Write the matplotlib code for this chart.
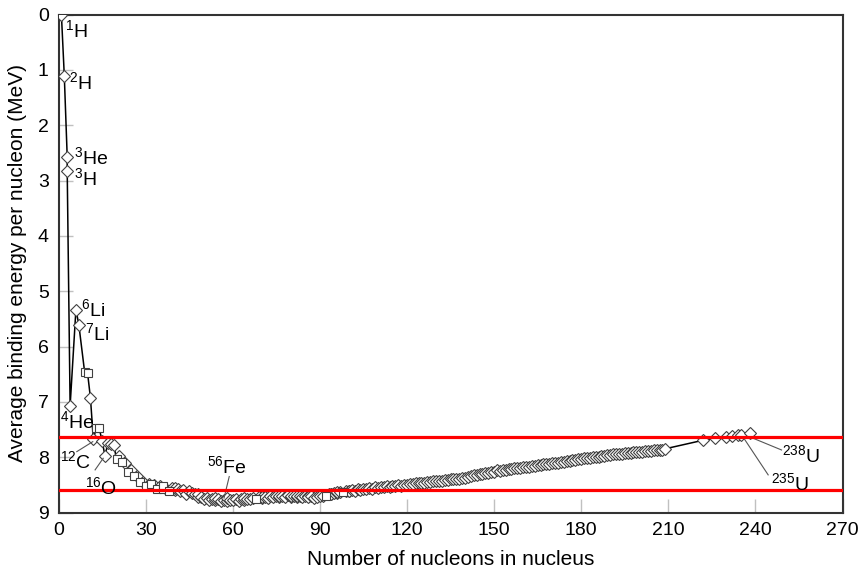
import matplotlib.pyplot as plt

plt.rcParams['font.family'] = ['Liberation Sans', 'DejaVu Sans']
plt.rcParams['mathtext.fontset'] = 'custom'
plt.rcParams['mathtext.rm'] = 'Liberation Sans'
plt.rcParams['mathtext.default'] = 'regular'

# stable nuclides: mass number A and average binding energy per nucleon (MeV)
mass_number = [
    1, 2, 3, 3, 4, 6, 7, 9, 10, 11, 12, 13, 14, 15, 16, 17, 18, 19, 20, 21,
    22, 23, 24, 25, 26, 27, 28, 29, 30, 31, 32, 33, 34, 35, 36, 36, 37, 38, 39, 40,
    40, 41, 42, 43, 44, 45, 46, 47, 48, 48, 49, 50, 51, 52, 53, 54, 54, 55, 56, 57,
    58, 58, 59, 60, 61, 62, 63, 64, 64, 65, 66, 67, 68, 69, 70, 70, 71, 72, 73, 74,
    75, 76, 76, 77, 78, 79, 80, 80, 81, 82, 82, 83, 84, 85, 86, 86, 87, 88, 89, 90,
    91, 92, 93, 94, 94, 95, 96, 96, 97, 98, 99, 100, 100, 101, 102, 103, 104, 105, 106, 107,
    108, 109, 110, 111, 112, 113, 114, 115, 116, 117, 118, 119, 120, 121, 122, 123, 124, 125, 126, 127,
    128, 129, 130, 131, 132, 133, 134, 135, 136, 137, 138, 139, 140, 141, 142, 143, 144, 145, 146, 147,
    148, 149, 150, 151, 152, 153, 154, 155, 156, 157, 158, 159, 160, 161, 162, 163, 164, 165, 166, 167,
    168, 169, 170, 171, 172, 173, 174, 175, 176, 177, 178, 179, 180, 181, 182, 183, 184, 185, 186, 187,
    188, 189, 190, 191, 192, 193, 194, 195, 196, 197, 198, 199, 200, 201, 202, 203, 204, 205, 206, 207,
    208, 209, 222, 226, 230, 232, 234, 235, 238,
]
binding_energy = [
    0.000, 1.112, 2.573, 2.827, 7.074, 5.332, 5.606, 6.463, 6.475, 6.928,
    7.680, 7.470, 7.476, 7.699, 7.976, 7.751, 7.767, 7.779, 8.032, 7.972,
    8.081, 8.112, 8.261, 8.224, 8.334, 8.332, 8.448, 8.449, 8.521, 8.481,
    8.493, 8.498, 8.584, 8.520, 8.575, 8.520, 8.570, 8.614, 8.557, 8.595,
    8.551, 8.576, 8.617, 8.601, 8.658, 8.619, 8.656, 8.661, 8.723, 8.666,
    8.711, 8.756, 8.742, 8.776, 8.760, 8.778, 8.736, 8.765, 8.790, 8.770,
    8.792, 8.732, 8.768, 8.781, 8.765, 8.795, 8.752, 8.777, 8.736, 8.757,
    8.760, 8.734, 8.756, 8.725, 8.730, 8.722, 8.718, 8.732, 8.705, 8.725,
    8.701, 8.711, 8.705, 8.695, 8.718, 8.688, 8.711, 8.693, 8.696, 8.711,
    8.693, 8.696, 8.717, 8.697, 8.709, 8.712, 8.705, 8.733, 8.714, 8.710,
    8.693, 8.693, 8.664, 8.667, 8.662, 8.649, 8.654, 8.635, 8.635, 8.635,
    8.609, 8.605, 8.620, 8.601, 8.607, 8.584, 8.585, 8.571, 8.580, 8.554,
    8.567, 8.548, 8.551, 8.537, 8.545, 8.523, 8.539, 8.514, 8.523, 8.510,
    8.517, 8.499, 8.505, 8.482, 8.478, 8.472, 8.467, 8.458, 8.463, 8.445,
    8.449, 8.431, 8.430, 8.424, 8.428, 8.410, 8.408, 8.397, 8.403, 8.392,
    8.394, 8.378, 8.376, 8.354, 8.346, 8.330, 8.327, 8.309, 8.304, 8.281,
    8.280, 8.263, 8.262, 8.239, 8.244, 8.229, 8.227, 8.213, 8.215, 8.204,
    8.202, 8.189, 8.183, 8.173, 8.174, 8.162, 8.159, 8.147, 8.142, 8.132,
    8.130, 8.115, 8.112, 8.098, 8.097, 8.087, 8.084, 8.069, 8.064, 8.052,
    8.049, 8.039, 8.035, 8.023, 8.018, 8.008, 8.005, 7.991, 7.989, 7.980,
    7.973, 7.963, 7.962, 7.948, 7.949, 7.938, 7.936, 7.927, 7.927, 7.916,
    7.912, 7.905, 7.906, 7.898, 7.897, 7.887, 7.886, 7.878, 7.875, 7.870,
    7.868, 7.848, 7.694, 7.662, 7.631, 7.615, 7.600, 7.591, 7.570,
]
# nuclides drawn as squares instead of diamonds
square_masses = [9, 10, 13, 14, 20, 22, 24, 26, 28, 30, 32, 34, 36, 38, 68, 92, 98]

red_levels = [7.64, 8.60]

# (text, x, y) for the labelled nuclides
nuclide_labels = [
    ("$^{1}$H", 2.2, 0.28),
    ("$^{2}$H", 3.6, 1.22),
    ("$^{3}$He", 5.3, 2.58),
    ("$^{3}$H", 5.3, 2.96),
    ("$^{6}$Li", 7.7, 5.32),
    ("$^{7}$Li", 9.1, 5.76),
    ("$^{4}$He", 0.5, 7.35),
    ("$^{12}$C", 0.5, 8.07),
    ("$^{16}$O", 9.1, 8.54),
    ("$^{56}$Fe", 51.1, 8.16),
    ("$^{238}$U", 249.1, 7.96),
    ("$^{235}$U", 245.3, 8.47),
]
# leader lines ((x0, y0), (x1, y1))
leaders = [
    ((6.3, 7.90), (11.8, 7.72)),
    ((12.6, 8.23), (15.4, 8.02)),
    ((58.8, 8.35), (57.0, 8.74)),
    ((239.3, 7.66), (249.0, 7.87)),
    ((235.8, 7.64), (244.4, 8.32)),
]

W, H = 866, 576
fig = plt.figure(figsize=(W / 100, H / 100), dpi=100)
ax = fig.add_axes([58.5 / W, 1 - 512.5 / H, 784 / W, 498 / H])

ax.plot(mass_number, binding_energy, color='black', lw=1.1, zorder=2)

is_square = [a in square_masses for a in mass_number]
xd = [a for a, s in zip(mass_number, is_square) if not s]
yd = [b for b, s in zip(binding_energy, is_square) if not s]
xs = [a for a, s in zip(mass_number, is_square) if s]
ys = [b for b, s in zip(binding_energy, is_square) if s]
ax.plot(xd, yd, ls='none', marker='D', ms=5.8, mfc='white', mec='#404040', mew=0.8, zorder=3)
ax.plot(xs, ys, ls='none', marker='s', ms=5.8, mfc='white', mec='#404040', mew=0.8, zorder=3)

for level in red_levels:
    ax.axhline(level, color='#ff0000', lw=2.3, zorder=4)

for (x0, y0), (x1, y1) in leaders:
    ax.plot([x0, x1], [y0, y1], color='#555555', lw=0.8, zorder=3)

for text, x, y in nuclide_labels:
    ax.text(x, y, text, fontsize=14, va='center', ha='left', zorder=5)

ax.set_xlim(0, 270)
ax.set_ylim(9, 0)
ax.set_xticks(range(0, 271, 30))
ax.set_yticks(range(0, 10))
ax.tick_params(direction='in', length=10, width=1, color='#c0c0c0', labelsize=14, pad=7)
for sp in ax.spines.values():
    sp.set_color('#333333')
    sp.set_linewidth(1.5)

ax.set_xlabel('Number of nucleons in nucleus', fontsize=15, labelpad=8)
ax.set_ylabel('Average binding energy per nucleon (MeV)', fontsize=15, labelpad=8)

fig.savefig('out.png', dpi=100)
